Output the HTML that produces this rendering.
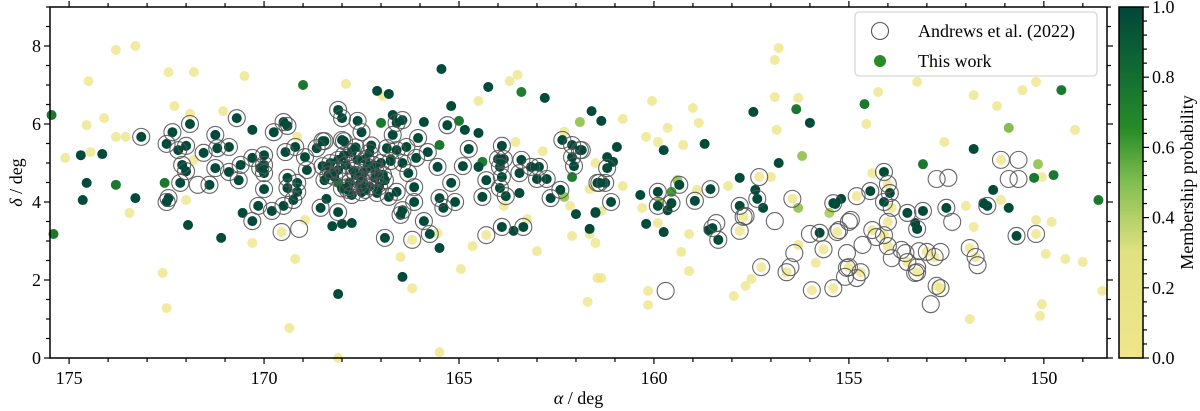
<!DOCTYPE html>
<html><head><meta charset="utf-8"><style>
html,body{margin:0;padding:0;background:#fff;}
svg{display:block;font-family:"Liberation Serif",serif;}
</style></head><body>
<svg id="chart" width="1200" height="411" xmlns="http://www.w3.org/2000/svg"></svg>
<script>
// ---- data ----
const xTicks = [175,170,165,160,155,150];
const yTicks = [0,2,4,6,8];
const cbTicks = ["0.0","0.2","0.4","0.6","0.8","1.0"];
const yellowRA  = [173.8,173.3,174.5,174.1,174.55,172.45,171.8,170.5,172.3,171.9,171.05,167.9,173.8,173.55,175.1,174.45,171.8,169.15,172.0,173.45,170.3,169.2,168.95,172.6,172.5,169.35,168.1,166.95,164.5,163.7,163.5,163.55,162.85,162.3,161.5,161.65,162.15,162.1,161.65,161.5,163.0,164.65,164.95,166.5,166.2,161.7,165.5,163.85,163.25,165.55,161.45,160.05,159.0,158.85,160.8,159.65,160.2,159.9,159.25,160.8,161.35,160.3,159.9,159.1,159.3,159.1,161.35,160.15,160.15,158.9,158.1,157.0,156.9,156.3,156.85,156.9,156.8,157.5,157.65,157.95,156.3,155.85,154.25,154.55,153.25,152.55,151.8,151.2,150.55,150.2,149.2,150.05,151.1,152.0,151.8,150.2,149.8,149.95,149.45,149.0,148.5,150.05,150.1,151.9,154.4,152.9];
const yellowDec = [7.9,8.0,7.1,6.15,5.97,7.33,7.33,7.23,6.46,6.26,6.33,7.03,5.67,5.67,5.13,5.28,5.08,5.67,4.05,3.72,2.95,2.54,3.54,2.18,1.28,0.77,0.0,6.72,6.59,7.1,7.26,5.54,5.3,5.8,5.0,4.33,3.9,3.13,3.18,2.95,2.74,2.87,2.28,2.59,1.79,1.44,0.15,3.9,3.56,3.2,2.05,6.59,6.41,6.03,6.13,5.9,5.67,5.54,5.46,4.41,3.77,3.85,3.46,3.18,2.72,2.23,2.05,1.72,1.36,4.31,4.41,4.64,6.69,6.67,5.85,7.64,7.95,2.03,1.85,1.59,2.9,2.44,6.82,6.0,7.08,5.54,6.74,6.46,6.87,7.08,5.85,4.64,4.05,3.9,3.36,3.54,3.49,2.67,2.54,2.46,1.72,1.38,1.08,1.0,4.74,7.46];
const yellowCircRA  = [169.55,164.3,166.2,157.3,157.8,156.45,157.25,156.6,155.95,155.4,155.65,155.3,157.7,154.8,151.1,154.4,154.0,153.9,154.0,154.1,154.0,153.5,153.25,153.0,152.8,151.9,151.75,152.75,152.65,155.0,154.7,150.2];
const yellowCircDec = [3.23,3.15,3.03,4.64,3.26,4.08,2.33,2.2,1.74,1.79,2.79,3.23,3.62,4.15,5.08,3.28,4.46,3.85,3.49,3.15,2.87,2.46,2.2,2.72,2.59,2.82,2.59,1.85,1.79,2.33,2.2,3.18];
const midRA  = [161.9,162.3,156.2,159.4,159.85,156.3,155.5,150.9,150.15,169.0,173.8,172.55,175.4,175.45,167.0,165.0,163.4,165.5,166.75,168.1,162.1,164.4,159.55,156.35,154.6,153.1,149.55,149.75,150.25,148.6];
const midDec = [6.05,4.13,5.18,4.56,4.0,3.85,3.72,5.9,4.97,7.0,4.44,4.49,3.18,6.23,6.03,6.08,6.82,5.46,5.1,4.49,4.64,5.03,4.26,6.38,6.51,4.97,6.87,4.69,4.62,4.05];
const midP   = [0.45,0.45,0.45,0.45,0.4,0.45,0.4,0.5,0.45,0.75,0.75,0.75,0.75,0.75,0.75,0.75,0.72,0.75,0.75,0.75,0.72,0.72,0.6,0.75,0.75,0.75,0.75,0.75,0.75,0.75];
const darkRA  = [174.7,174.15,174.55,174.65,173.3,171.95,171.1,168.1,170.3,170.55,168.25,168.0,165.45,167.1,166.8,164.25,162.8,165.2,161.6,165.9,164.85,164.5,166.7,167.75,166.45,165.5,163.6,163.45,162.0,161.5,161.65,164.5,168.4,161.35,160.95,161.2,161.05,161.5,160.35,160.2,159.75,159.75,158.7,159.65,157.45,156.0,156.8,157.8,157.4,157.2,155.2,158.6,151.8,151.3,151.55,150.9,155.35,153.3,153.25];
const darkDec = [5.2,5.23,4.49,4.05,4.1,3.41,3.08,1.64,5.85,3.72,3.38,3.44,7.41,6.85,6.77,6.95,6.67,6.46,6.33,6.05,5.85,5.77,6.23,3.46,2.08,2.82,3.26,4.23,3.69,3.74,3.31,4.9,4.08,6.08,5.41,5.15,5.03,3.72,4.18,3.44,3.23,5.33,5.49,3.79,6.31,6.03,5.0,4.62,4.31,3.85,4.08,3.28,5.36,4.31,3.97,3.85,3.95,3.46,3.31];
const darkCircRA  = [173.15,172.35,171.9,170.7,172.5,172.2,172.0,171.55,171.25,171.2,170.9,172.1,172.0,171.25,171.4,172.15,172.45,172.5,170.6,170.9,170.65,170.3,170.0,170.0,170.0,170.1,169.75,169.5,169.4,169.2,169.45,168.95,168.65,168.5,168.1,168.0,168.0,168.9,168.5,168.3,168.45,169.4,169.4,169.15,169.25,169.15,170.0,170.15,169.8,169.5,170.3,168.55,168.1,167.85,168.1,168.1,167.6,167.5,167.95,168.45,168.35,167.75,167.6,167.3,167.35,167.65,167.5,167.85,167.75,167.4,167.15,166.9,167.1,166.8,166.6,166.7,166.85,166.6,166.35,166.45,166.6,166.1,166.05,165.8,166.45,166.3,166.15,166.15,166.45,166.5,165.9,165.75,166.9,165.55,165.5,165.4,165.1,165.2,165.3,164.75,164.9,163.9,164.0,163.85,163.95,164.3,163.9,163.95,163.8,164.4,163.4,163.45,163.15,162.95,163.0,162.75,162.65,162.4,162.35,162.1,161.9,162.1,162.05,163.9,163.35,161.45,161.85,161.2,161.4,161.25,161.1,159.9,159.9,159.55,159.35,158.95,158.55,158.5,158.35,157.8,157.35,155.75,155.4,154.1,153.95,154.1,153.5,153.1,153.25,152.5,151.45,150.7,154.45,
  167.9,167.7,167.45,167.2,167.0,167.8,167.55,167.3,168.2,167.95,167.4,167.15,166.95,168.3,167.65,167.25,166.75,168.0,167.5,167.05];
const darkCircDec = [5.67,5.79,6.0,6.15,5.49,5.33,5.44,5.26,5.72,5.38,5.41,4.95,4.79,4.87,4.44,4.49,4.1,4.0,4.95,4.77,4.56,5.13,5.2,4.95,4.74,4.87,5.79,6.05,5.95,5.41,5.28,5.15,5.38,5.56,6.36,6.15,5.59,4.82,4.92,4.82,4.56,4.62,4.36,4.26,4.05,4.49,4.33,3.9,3.77,3.9,3.51,3.85,3.74,4.31,4.82,5.08,6.08,5.79,5.56,5.56,4.69,5.28,5.08,5.26,4.9,4.69,4.56,4.38,4.18,4.31,4.62,4.56,4.23,4.13,4.26,5.72,5.38,5.33,5.41,6.1,6.03,5.13,5.64,5.28,5.0,4.74,4.38,4.0,3.79,3.67,3.51,3.18,3.08,4.9,4.1,3.85,4.0,4.49,5.97,5.36,4.92,5.44,5.1,5.1,4.9,4.56,4.64,4.36,4.15,4.13,5.08,4.74,4.9,4.9,4.59,4.59,4.1,4.31,5.59,5.46,5.33,5.15,4.92,3.36,3.36,4.49,5.33,4.87,4.49,4.49,4.0,4.26,3.9,3.97,4.44,4.03,4.33,3.33,3.03,3.9,4.08,3.21,3.97,4.77,4.23,4.0,3.72,3.77,3.31,3.85,3.9,3.13,4.28,
  4.95,4.8,4.75,4.95,5.0,4.5,4.45,4.4,4.65,5.2,5.1,4.8,4.7,5.0,5.4,5.45,5.05,4.35,4.25,4.4];
const emptyRA  = [171.7,169.1,159.7,158.4,156.9,157.65,156.5,156.4,156.0,155.1,155.05,155.05,155.0,150.65,152.75,152.45,150.9,150.65,154.95,152.35,155.25,154.3,154.65,153.9,153.65,153.55,153.2,152.65,153.25,153.3,151.7,154.8,152.9];
const emptyDec = [4.44,3.31,1.72,3.46,3.51,3.64,2.33,2.69,3.18,2.08,2.69,2.31,3.49,5.08,4.59,4.62,4.59,4.59,3.54,3.49,3.28,3.1,2.9,2.56,2.77,2.69,2.74,2.72,2.33,2.18,2.38,2.05,1.38];

// ---- layout ----
const L=50,R=1107,T=7,B=358;
const RA0=175.49,RA1=148.38,DEC0=0,DEC1=9;
const xs=ra=>L+(RA0-ra)/(RA0-RA1)*(R-L);
const ys=d=>B-(d-DEC0)/(DEC1-DEC0)*(B-T);
const NS="http://www.w3.org/2000/svg";
const svg=document.getElementById('chart');
function mk(tag,attrs,parent){const e=document.createElementNS(NS,tag);for(const k in attrs)e.setAttribute(k,attrs[k]);(parent||svg).appendChild(e);return e;}
function lerp(a,b,t){return a+(b-a)*t;}
const stops=[[0,[240,230,140]],[0.3,[225,225,130]],[0.5,[130,190,80]],[0.65,[40,140,40]],[0.8,[20,110,50]],[1,[0,70,58]]];
function cmap(p){for(let i=1;i<stops.length;i++){if(p<=stops[i][0]){const a=stops[i-1],b=stops[i];const t=(p-a[0])/(b[0]-a[0]);return 'rgb('+[0,1,2].map(j=>Math.round(lerp(a[1][j],b[1][j],t))).join(',')+')';}}return 'rgb(0,70,58)';}

const gPts=mk('g',{});


function dot(ra,dec,p,name){const c=mk('circle',{cx:xs(ra),cy:ys(dec),r:5,fill:cmap(p),'fill-opacity':p<0.3?0.8:1},gPts);

}
function ring(ra,dec){const c=mk('circle',{cx:xs(ra),cy:ys(dec),r:8.5,fill:'none',stroke:'#555','stroke-width':1.1,'stroke-opacity':0.9},gPts);

}
yellowRA.forEach((v,i)=>dot(v,yellowDec[i],0.05,'member-point'));
yellowCircRA.forEach((v,i)=>dot(v,yellowCircDec[i],0.05,'member-point'));
midRA.forEach((v,i)=>dot(v,midDec[i],midP[i],'member-point'));
darkRA.forEach((v,i)=>dot(v,darkDec[i],0.98,'member-point'));
darkCircRA.forEach((v,i)=>dot(v,darkCircDec[i],0.98,'member-point'));
yellowCircRA.forEach((v,i)=>ring(v,yellowCircDec[i]));
darkCircRA.forEach((v,i)=>ring(v,darkCircDec[i]));
emptyRA.forEach((v,i)=>ring(v,emptyDec[i]));

// ---- axes ----
const ax=mk('g',{});


mk('rect',{x:L,y:T,width:R-L,height:B-T,fill:'none',stroke:'#000','stroke-width':1.5},ax);
for(let v=149;v<=175;v++){const x=xs(v);const major=v%5===0;const len=major?6:4;
mk('line',{x1:x,x2:x,y1:B,y2:B+len,stroke:'#000','stroke-width':1.2},ax);
mk('line',{x1:x,x2:x,y1:T,y2:T-len,stroke:'#000','stroke-width':1.2},ax);}
for(let v=0;v<=9;v+=0.5){const y=ys(v);const major=v%2===0;const len=major?6:4;
mk('line',{x1:L,x2:L-len,y1:y,y2:y,stroke:'#000','stroke-width':1.2},ax);
mk('line',{x1:R,x2:R+len,y1:y,y2:y,stroke:'#000','stroke-width':1.2},ax);}
xTicks.forEach(v=>{const t=mk('text',{x:xs(v),y:B+26,'text-anchor':'middle','font-size':18},ax);t.textContent=v;

});
yTicks.forEach(v=>{const t=mk('text',{x:L-9,y:ys(v)+6,'text-anchor':'end','font-size':18},ax);t.textContent=v;

});
const xt=mk('text',{x:(L+R)/2,y:404,'text-anchor':'middle','font-size':18});xt.innerHTML='<tspan font-style="italic">α</tspan> / deg';


const yt=mk('text',{x:0,y:0,'text-anchor':'middle','font-size':18,transform:'translate(22,'+((T+B)/2)+') rotate(-90)'});yt.innerHTML='<tspan font-style="italic">δ</tspan> / deg';



// ---- legend ----
const lg=mk('g',{});


mk('rect',{x:855,y:12,width:242,height:64,rx:4,fill:'#fff','fill-opacity':0.85,stroke:'#ccc','stroke-width':1},lg);
const l1=mk('circle',{cx:880,cy:31,r:8.5,fill:'none',stroke:'#555','stroke-width':1.1},lg);


const lt1=mk('text',{x:918,y:37,'font-size':18},lg);lt1.textContent='Andrews et al. (2022)';


const l2=mk('circle',{cx:880,cy:61,r:6,fill:'#2a8a2a'},lg);


const lt2=mk('text',{x:918,y:67,'font-size':18},lg);lt2.textContent='This work';



// ---- colorbar ----
const cb=mk('g',{});


const defs=mk('defs',{});
const grad=mk('linearGradient',{id:'cbg',x1:0,y1:1,x2:0,y2:0},defs);
for(let i=0;i<=20;i++){mk('stop',{offset:i/20,'stop-color':cmap(i/20)},grad);}
const CBL=1119,CBR=1143;
mk('rect',{x:CBL,y:T,width:CBR-CBL,height:B-T,fill:'url(#cbg)',stroke:'#000','stroke-width':1.5},cb);
for(let i=0;i<=25;i++){const y=B-(B-T)*i/25;const major=i%5===0;
mk('line',{x1:CBR,x2:CBR+(major?6:4),y1:y,y2:y,stroke:'#000','stroke-width':1.2},cb);}
cbTicks.forEach((s,i)=>{const t=mk('text',{x:CBR+9,y:B-(B-T)*i/5+6,'font-size':18},cb);t.textContent=s;

});
const ct=mk('text',{x:0,y:0,'text-anchor':'middle','font-size':18,transform:'translate(1193,'+((T+B)/2)+') rotate(-90)'},cb);ct.textContent='Membership probability';


</script>
</body></html>
